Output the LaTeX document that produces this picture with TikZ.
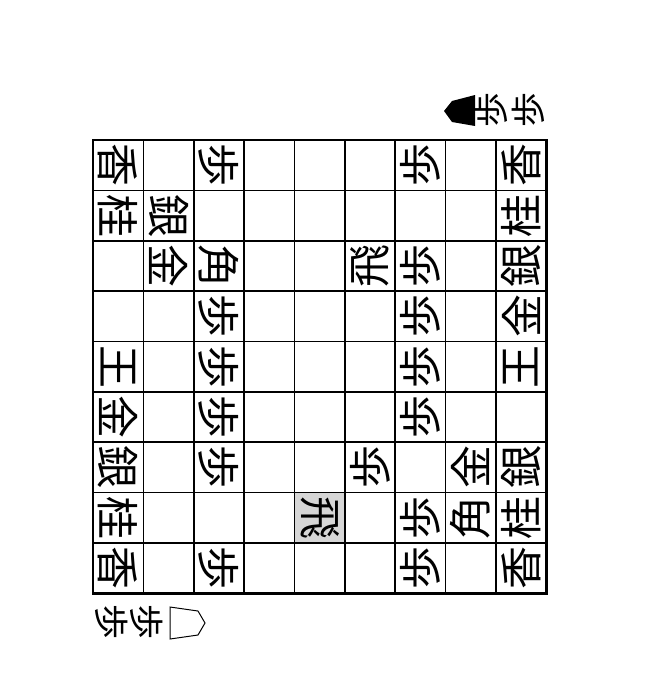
\documentclass[tikz,border=0pt]{standalone}
\usepackage{fontspec}
\newfontfamily\jp{Noto Sans CJK JP}
\tikzset{
  sente/.style={rotate=-90,inner sep=0pt,font=\jp\fontsize{43}{43}\selectfont},
  gote/.style={rotate=90,inner sep=0pt,font=\jp\fontsize{43}{43}\selectfont},
  handup/.style={rotate=90,inner sep=0pt,font=\jp\fontsize{35}{35}\selectfont},
  handdown/.style={rotate=-90,inner sep=0pt,font=\jp\fontsize{35}{35}\selectfont}
}
\def\cs{50.35}
\begin{document}
\begin{tikzpicture}[x=1pt,y=-1pt]
\useasboundingbox (0,0) rectangle (652,685);
\fill[white] (0,0) rectangle (652,685);
% last move
\fill[black!16] ({93+4*\cs},{140+7*\cs}) rectangle ({93+5*\cs},{140+8*\cs});
% board
\foreach \i in {1,...,8} {
  \draw[line width=1.6pt] ({93+\i*\cs},140) -- ({93+\i*\cs},{140+9*\cs});
  \draw[line width=1.6pt] (93,{140+\i*\cs}) -- ({93+9*\cs},{140+\i*\cs});
}
\draw[line width=2.8pt] (93,140) rectangle ({93+9*\cs},{140+9*\cs});
% sente pieces
\foreach \c/\r/\p in {1/1/香,1/2/桂,1/5/王,1/6/金,1/7/銀,1/8/桂,1/9/香,
    2/2/銀,2/3/金,3/1/歩,3/3/角,3/4/歩,3/5/歩,3/6/歩,3/7/歩,3/9/歩,5/8/飛}
  \node[sente] (s\c\r) at ({93+(\c-0.5)*\cs},{140+(\r-0.5)*\cs}) {\p};
% gote pieces
\foreach \c/\r/\p in {9/1/香,9/2/桂,9/3/銀,9/4/金,9/5/王,9/7/銀,9/8/桂,9/9/香,
    8/7/金,8/8/角,7/1/歩,7/3/歩,7/4/歩,7/5/歩,7/6/歩,7/8/歩,7/9/歩,6/3/飛,6/7/歩}
  \node[gote] (g\c\r) at ({93+(\c-0.5)*\cs},{140+(\r-0.5)*\cs}) {\p};
% pieces in hand
\fill (475,95) -- (452,101) -- (444,111) -- (452,122) -- (475,126) -- cycle;
\node[handup] (hu1) at (491,110) {歩};
\node[handup] (hu2) at (528,110) {歩};
\draw[line width=1pt] (170,607) -- (198,611) -- (205,623) -- (198,635) -- (170,639) -- cycle;
\node[handdown] (hd1) at (112,622) {歩};
\node[handdown] (hd2) at (147,622) {歩};
\end{tikzpicture}
\end{document}
